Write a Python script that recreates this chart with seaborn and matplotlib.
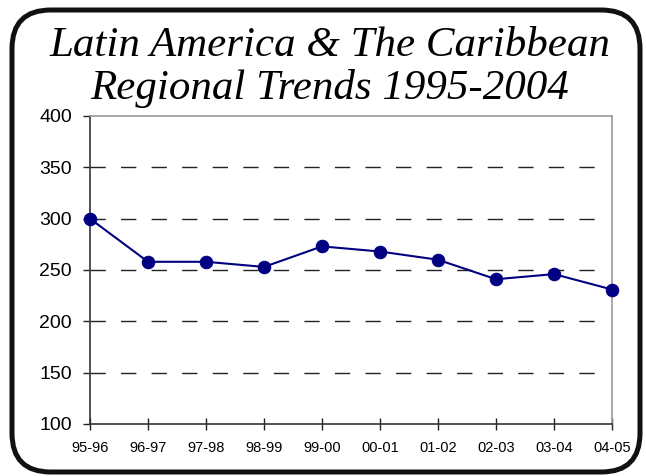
import numpy as np
import pandas as pd
import matplotlib as mpl
mpl.use("Agg")
from matplotlib import pyplot as plt
from matplotlib.patches import FancyBboxPatch
import seaborn as sns

# data
years = ["95-96", "96-97", "97-98", "98-99", "99-00", "00-01", "01-02", "02-03", "03-04", "04-05"]
values = [300, 258, 258, 253, 273, 268, 260, 241, 246, 231]
y_ticks = [100, 150, 200, 250, 300, 350, 400]
title_lines = ["Latin America & The Caribbean", "Regional Trends 1995-2004"]

df = pd.DataFrame({"pos": np.arange(len(years)), "value": values})

sns.set_theme(style="white")
plt.rcParams['font.family'] = ['Liberation Sans', 'DejaVu Sans']
plt.rcParams['text.color'] = "black"
plt.rcParams['xtick.color'] = "black"
plt.rcParams['ytick.color'] = "black"

f = plt.figure(figsize=(6.46, 4.76), dpi=100)
ax = f.add_axes([90 / 646, 1 - 424 / 476, 522 / 646, 308 / 476])

# dashed gridlines (not at the bottom/top)
for v in y_ticks[1:-1]:
    ax.axhline(v, xmax=0.98, color="#222222", lw=1.0, ls=(0, (11, 11)), zorder=1)

sns.lineplot(data=df, x="pos", y="value", color="#000080", lw=1.5,
             marker="o", markersize=9, markeredgecolor="#000080", ax=ax, zorder=3, clip_on=False)

ax.set_xlim(0, len(years) - 1)
ax.set_ylim(100, 400)
ax.set_xticks(df["pos"])
ax.set_xticklabels(years, fontsize=10.5)
ax.set_yticks(y_ticks)
ax.set_yticklabels([str(t) for t in y_ticks], fontsize=14)
ax.set_xlabel("")
ax.set_ylabel("")

ax.tick_params(axis="x", bottom=True, direction="inout", length=9, width=1, color="#222222", pad=8)
ax.tick_params(axis="y", left=True, direction="out", length=5, width=1, color="#222222", pad=8)
for s in ["left", "bottom"]:
    ax.spines[s].set_color("#333333")
    ax.spines[s].set_linewidth(1.2)
for s in ["top", "right"]:
    ax.spines[s].set_color("#999999")
    ax.spines[s].set_linewidth(1.2)

# title in italic serif
f.text(330 / 646, 1 - 46 / 476, title_lines[0], ha="center", va="center",
       fontsize=31, style="italic", family=["Liberation Serif", "DejaVu Serif"])
f.text(330 / 646, 1 - 89 / 476, title_lines[1], ha="center", va="center",
       fontsize=31, style="italic", family=["Liberation Serif", "DejaVu Serif"])

# rounded outer frame
frame = FancyBboxPatch((12 / 646, 4 / 476), 628 / 646, 462 / 476,
                       boxstyle="round,pad=0,rounding_size=0.06",
                       transform=f.transFigure, fill=False, edgecolor="#111111",
                       linewidth=3.6, mutation_aspect=646 / 476)
f.patches.append(frame)

plt.savefig("out.png", dpi=100)
